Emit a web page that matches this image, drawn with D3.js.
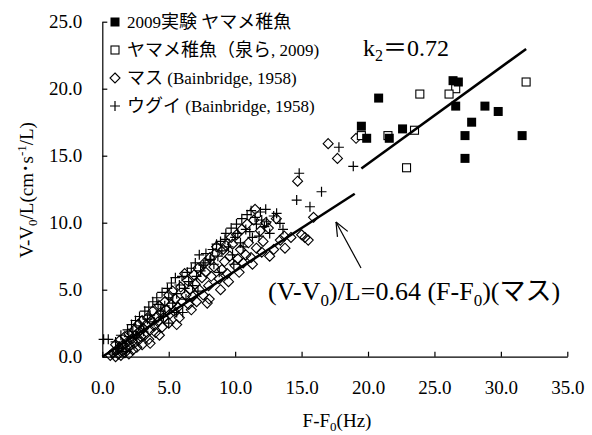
<!DOCTYPE html>
<html><head><meta charset="utf-8">
<script src="https://cdn.jsdelivr.net/npm/d3@7/dist/d3.min.js"></script>
<style>
body{margin:0;background:#fff;}
text{font-family:"Liberation Serif","Times New Roman","Noto Sans CJK JP",serif;fill:#000;}
</style></head><body>
<svg id="c" width="592" height="435"></svg>
<script>
// ---- data ----
const xTicks = [0,5,10,15,20,25,30,35];
const yTicks = [0,5,10,15,20,25];
const seriesNames = ["2009実験 ヤマメ稚魚","ヤマメ稚魚（泉ら, 2009)","マス (Bainbridge, 1958)","ウグイ (Bainbridge, 1958)"];
const exp2009 = [[26.4,20.6],[26.8,20.5],[20.8,19.3],[26.6,18.7],[28.8,18.7],[29.8,18.3],[19.5,17.2],[27.8,17.5],[22.6,17.0],[19.9,16.3],[21.6,16.3],[27.3,16.5],[31.6,16.5],[27.3,14.8]];
const izumi = [[31.9,20.5],[26.6,20.0],[26.1,19.6],[23.9,19.6],[19.5,16.5],[21.5,16.5],[23.5,16.9],[22.9,14.1]];
const masu = [[0.6,0.1],[0.8,0.3],[1.0,0.0],[1.1,0.5],[1.2,0.2],[1.3,0.7],[1.4,0.1],[1.5,0.4],[1.6,0.9],[1.7,0.3],[1.8,0.6],[1.9,1.1],[2.0,0.2],[2.1,0.8],[2.2,1.3],[2.3,0.5],[2.4,1.0],[2.5,1.6],[2.6,0.7],[2.7,1.2],[2.8,1.9],[2.9,1.5],[3.0,0.9],[3.1,2.1],[3.2,1.6],[3.3,2.4],[3.5,1.3],[3.6,2.0],[3.7,2.7],[3.9,2.3],[4.0,1.8],[4.1,3.0],[4.2,2.6],[4.4,3.3],[4.5,2.2],[4.6,2.9],[4.8,3.5],[5.0,2.5],[5.1,3.2],[5.2,3.9],[5.4,3.4],[5.5,4.3],[5.7,3.7],[5.8,2.9],[6.0,4.1],[6.2,6.2],[6.3,4.6],[6.5,3.9],[6.6,5.0],[6.8,4.5],[7.0,5.4],[7.1,4.1],[7.3,5.0],[7.5,5.9],[7.6,4.6],[7.8,6.3],[8.0,5.3],[8.05,4.3],[8.2,6.0],[8.4,6.7],[8.6,8.2],[8.8,5.8],[8.9,5.0],[9.0,6.5],[9.1,8.0],[9.2,7.1],[9.4,6.2],[9.6,7.5],[9.8,8.4],[10.0,6.8],[10.2,7.3],[10.4,8.0],[10.6,7.0],[10.8,7.6],[11.0,8.5],[11.2,7.4],[11.5,11.0],[11.6,8.1],[11.9,9.4],[12.1,8.6],[12.6,7.5],[12.9,8.0],[13.1,10.3],[13.4,8.7],[13.7,9.0],[13.75,8.1],[14.2,8.9],[14.7,13.1],[15.0,9.1],[15.25,8.9],[15.5,8.7],[15.9,10.4],[17.0,15.9],[17.7,14.8],[19.1,16.3],
  [1.0,0.9],[1.3,1.2],[1.7,1.5],[2.0,1.7],[2.4,2.0],[2.7,2.4],[3.0,2.7],[3.4,2.9],[3.8,3.4],[4.3,3.8],[4.7,4.1],[5.0,4.6],[5.3,4.9],[5.9,5.2],[6.4,5.7],[6.9,6.1],[7.2,6.6],[7.7,7.0],[8.1,7.4],[8.5,7.7],[9.3,8.3],[9.7,8.9],[10.1,9.1],[10.5,9.5],[10.9,9.9],[11.4,10.2],[12.3,10.0],[12.5,9.6],[3.6,1.0],[4.3,1.6],[5.6,2.4],[6.7,3.5],[7.9,4.0],[9.5,5.6],[10.3,6.3],[11.3,6.9],[12.0,7.8]];
const ugui = [[0.1,1.3],[0.45,1.3],[0.8,0.2],[1.2,0.6],[1.5,1.0],[1.8,0.4],[2.0,1.5],[2.3,1.9],[2.6,1.4],[2.9,2.3],[3.1,1.9],[3.4,2.8],[3.6,3.1],[3.9,2.6],[4.2,3.9],[4.4,3.4],[4.7,3.8],[5.0,4.4],[5.0,2.5],[5.3,4.0],[5.6,4.7],[5.6,3.3],[5.8,5.35],[6.05,3.3],[6.2,5.1],[6.5,5.6],[6.8,5.3],[7.1,6.0],[7.4,6.4],[7.6,6.84],[7.73,7.0],[8.1,7.2],[8.16,7.27],[8.4,6.9],[8.7,7.5],[9.0,7.9],[9.23,8.76],[9.5,8.2],[9.8,7.6],[10.0,8.9],[10.2,9.2],[10.4,8.5],[10.6,8.2],[10.8,9.5],[11.1,9.33],[11.3,8.9],[11.6,9.9],[11.8,9.0],[12.0,10.2],[12.2,9.7],[12.37,10.07],[12.6,9.2],[12.9,10.5],[13.12,10.7],[13.37,9.95],[13.6,9.5],[14.63,11.69],[14.82,13.69],[15.63,11.19],[16.5,12.31],[17.81,15.63],[18.89,14.21],
  [1.0,1.1],[1.4,1.6],[1.9,2.0],[2.2,2.4],[2.5,2.7],[2.8,3.0],[3.2,3.4],[3.5,3.7],[3.8,4.1],[4.1,4.4],[4.5,4.8],[4.9,5.1],[5.2,5.5],[5.5,5.9],[6.0,6.0],[6.4,6.3],[6.7,6.6],[7.0,7.0],[7.3,7.6],[7.8,7.7],[8.3,8.0],[8.6,8.4],[8.9,8.6],[9.3,9.2],[9.7,9.6],[10.1,9.9],[10.5,10.3],[10.9,10.6],[11.2,10.9],[11.5,10.4],[11.9,10.8],[12.3,11.0],[4.6,3.0],[6.3,4.3],[7.2,4.9],[8.8,6.3],[9.9,6.9]];
const fitMasu = {slope:0.64, from:0, to:19.0};
const fitK2 = {slope:0.72, from:19.5, to:31.9};

// ---- chart ----
const SERIF = '"Liberation Serif","Times New Roman",serif';
const svg = d3.select("#c");
const x = d3.scaleLinear().domain([0,35]).range([102.3,567.3]);
const y = d3.scaleLinear().domain([0,25]).range([356.7,21.7]);

// axes
const xAxis = d3.axisBottom(x).tickValues(xTicks).tickSizeInner(-5).tickSizeOuter(0).tickFormat(d3.format(".1f")).tickPadding(24);
const yAxis = d3.axisLeft(y).tickValues(yTicks).tickSizeInner(-5).tickSizeOuter(0).tickFormat(d3.format(".1f")).tickPadding(20);
const gx = svg.append("g").attr("transform",`translate(0,${y(0)})`).call(xAxis);
const gy = svg.append("g").attr("transform",`translate(${x(0)},0)`).call(yAxis);
[gx,gy].forEach(g=>{
  g.attr("font-family",SERIF).attr("font-size",19);
  g.selectAll("path,line").attr("stroke","#000").attr("stroke-width",1.2);
  g.selectAll("text").attr("font-family",SERIF).style("font-family",SERIF).style("font-size","19px").attr("fill","#000");
});

// markers
function drawMarker(g, type, cx, cy){
  if(type===0){
    g.append("rect").attr("x",cx-4.5).attr("y",cy-4.5).attr("width",9).attr("height",9).attr("fill","#000");
  } else if(type===1){
    g.append("rect").attr("x",cx-4).attr("y",cy-4).attr("width",8).attr("height",8).attr("fill","#fff").attr("stroke","#000").attr("stroke-width",1.1);
  } else if(type===2){
    g.append("path").attr("d",`M${cx},${cy-5}L${cx+5},${cy}L${cx},${cy+5}L${cx-5},${cy}Z`).attr("fill","none").attr("stroke","#000").attr("stroke-width",1.1);
  } else {
    g.append("path").attr("d",`M${cx-5},${cy}H${cx+5}M${cx},${cy-5}V${cy+5}`).attr("stroke","#000").attr("stroke-width",1.2);
  }
}
const pts = svg.append("g");
ugui.forEach(d=>drawMarker(pts,3,x(d[0]),y(d[1])));
masu.forEach(d=>drawMarker(pts,2,x(d[0]),y(d[1])));
izumi.forEach(d=>drawMarker(pts,1,x(d[0]),y(d[1])));
exp2009.forEach(d=>drawMarker(pts,0,x(d[0]),y(d[1])));

// fit lines
[fitMasu,fitK2].forEach(f=>{
  svg.append("line").attr("x1",x(f.from)).attr("y1",y(f.slope*f.from))
    .attr("x2",x(f.to)).attr("y2",y(f.slope*f.to))
    .attr("stroke","#000").attr("stroke-width",2.5);
});

// legend
const leg = svg.append("g");
const cjkRe = /[\u3000-\u9fff\uff00-\uffef]+|[^\u3000-\u9fff\uff00-\uffef]+/g;
seriesNames.forEach((n,i)=>{
  const ly = 22 + i*28;
  drawMarker(leg,i,115,ly);
  const t = leg.append("text").attr("x",127).attr("y",ly).attr("dy","0.36em");
  n.match(cjkRe).forEach(run=>{
    const isCjk = /[\u3000-\u9fff\uff00-\uffef]/.test(run);
    t.append("tspan").style("font-size", isCjk ? "18px" : "17px").text(run);
  });
});

// k2 label
const k = svg.append("text").attr("x",363).attr("y",56).style("font-size","24px");
k.append("tspan").text("k");
k.append("tspan").attr("dy",5).style("font-size","16px").text("2");
k.append("tspan").attr("dy",-5).text("＝0.72");

// equation
const eq = svg.append("text").attr("x",268).attr("y",300).style("font-size","26px");
eq.append("tspan").text("(V-V");
eq.append("tspan").attr("dy",6).style("font-size","17px").text("0");
eq.append("tspan").attr("dy",-6).text(")/L=0.64 (F-F");
eq.append("tspan").attr("dy",6).style("font-size","17px").text("0");
eq.append("tspan").attr("dy",-6).text(")(マス)");

// arrow
const ax1=361, ay1=268, ax2=336, ay2=222;
svg.append("line").attr("x1",ax1).attr("y1",ay1).attr("x2",ax2).attr("y2",ay2).attr("stroke","#000").attr("stroke-width",1.2);
const ang = Math.atan2(ay1-ay2, ax1-ax2);
[0.4,-0.4].forEach(a=>{
  svg.append("line").attr("x1",ax2).attr("y1",ay2)
    .attr("x2",ax2+15*Math.cos(ang+a)).attr("y2",ay2+15*Math.sin(ang+a))
    .attr("stroke","#000").attr("stroke-width",1.2);
});

// axis titles
const xt = svg.append("text").attr("x",337).attr("y",427).attr("text-anchor","middle").style("font-size","19px");
xt.append("tspan").text("F-F");
xt.append("tspan").attr("dy",4).style("font-size","13px").text("0");
xt.append("tspan").attr("dy",-4).text("(Hz)");

const yt = svg.append("text").attr("transform","translate(33,190) rotate(-90)").attr("text-anchor","middle").style("font-size","19px");
yt.append("tspan").text("V-V");
yt.append("tspan").attr("dy",4).style("font-size","13px").text("0");
yt.append("tspan").attr("dy",-4).text("/L(cm･s");
yt.append("tspan").attr("dy",-7).style("font-size","13px").text("-1");
yt.append("tspan").attr("dy",7).text("/L)");
</script></body></html>
